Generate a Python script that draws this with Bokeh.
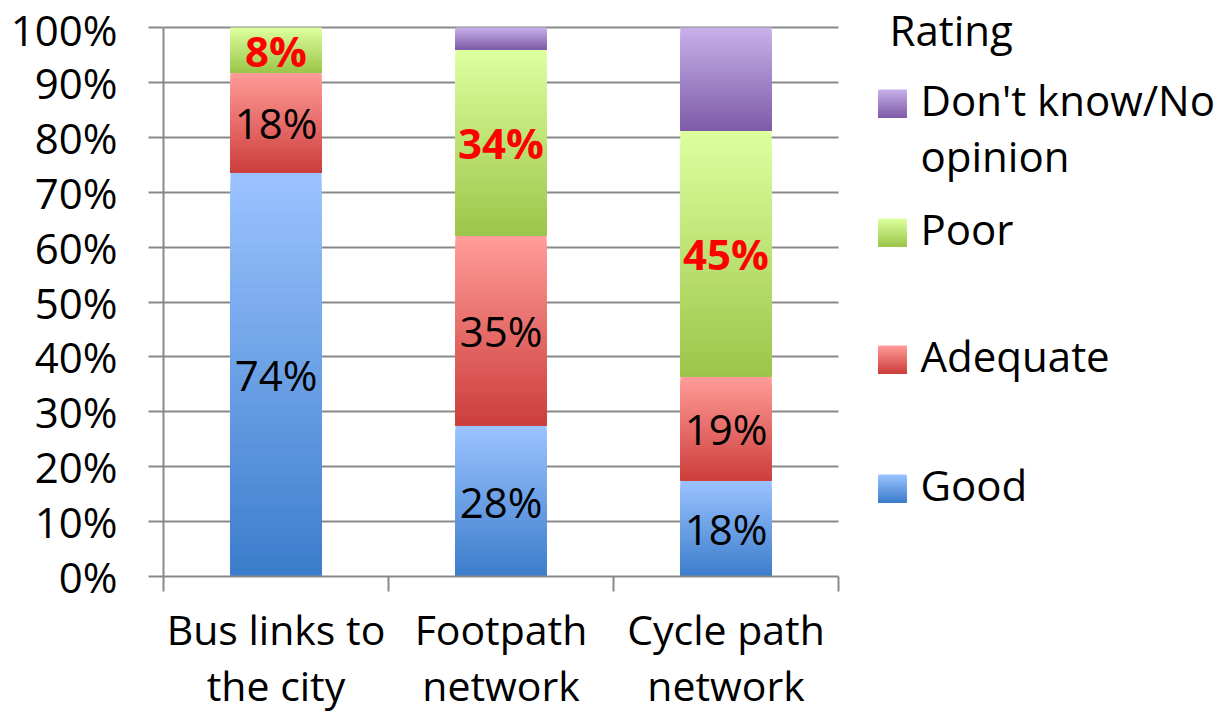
import numpy as np
from bokeh.plotting import figure
from bokeh.models import Range1d, FixedTicker, PrintfTickFormatter, ColumnDataSource
from bokeh.embed import file_html
from bokeh.resources import INLINE
from bokeh.core.properties import value

# ---------------- data ----------------
categories = ["Bus links to\nthe city", "Footpath\nnetwork", "Cycle path\nnetwork"]
ratings = ["Good", "Adequate", "Poor", "Don't know/No opinion"]
legend_order = ["Don't know/No opinion", "Poor", "Adequate", "Good"]
legend_lines = [["Don't know/No", "opinion"], ["Poor"], ["Adequate"], ["Good"]]
good = [73.6, 27.5, 17.5]
adequate = [18.2, 34.6, 18.9]
poor = [8.2, 33.9, 44.8]
dont_know = [0.0, 4.0, 18.8]
y_ticks = [0, 10, 20, 30, 40, 50, 60, 70, 80, 90, 100]

# ---------------- style / layout ----------------
FONT = "Open Sans"
FS = "42px"
GRAY = "#898989"
grad = {  # (light top, dark bottom)
    "Good": ("#9ac2ff", "#3d7ecc"),
    "Adequate": ("#ff9b98", "#cd3f3c"),
    "Poor": ("#dcff9e", "#9cc64a"),
    "Don't know/No opinion": ("#c7b0ea", "#7f5ca8"),
}
K = 40
BAR_W = 0.405

W, H = 1220, 716
FRAME_L, FRAME_B = 163, 576          # canvas px of x=0 / y=0
PX_X = 225.0                         # px per category
PX_Y = 5.49                          # px per percent
x_end = (W - FRAME_L) / PX_X
y_end = FRAME_B / PX_Y


def px2x(px):
    return (px - FRAME_L) / PX_X


def px2y(py):
    return (FRAME_B - py) / PX_Y


def hex2rgb(h):
    h = h.lstrip("#")
    return np.array([int(h[i:i + 2], 16) for i in (0, 2, 4)], dtype=float)


def mix(light, dark, t):
    a, b = hex2rgb(dark), hex2rgb(light)
    c = a + (b - a) * t
    return "#%02x%02x%02x" % tuple(int(round(v)) for v in c)


p = figure(width=W, height=H, x_range=Range1d(0, x_end), y_range=Range1d(0, y_end),
           output_backend="svg", toolbar_location=None,
           min_border_left=FRAME_L, min_border_right=0, min_border_top=0,
           min_border_bottom=H - FRAME_B)
p.outline_line_color = None
p.background_fill_color = "white"
p.border_fill_color = "white"

series = {"Good": good, "Adequate": adequate, "Poor": poor, "Don't know/No opinion": dont_know}
centers = [i + 0.5 for i in range(len(categories))]

# grid (only across the category area)
p.xgrid.grid_line_color = None
p.ygrid.ticker = FixedTicker(ticks=y_ticks)
p.ygrid.grid_line_color = GRAY
p.ygrid.grid_line_width = 2
p.ygrid.cross_bounds = (0, len(categories))

# gradient-filled stacked bars (overlapping slices, light on top)
qs = dict(left=[], right=[], bottom=[], top=[], color=[])
base = [0.0] * len(categories)
seg_info = []
for r in ratings:
    vals = series[r]
    light, dark = grad[r]
    for i, v in enumerate(vals):
        b = base[i]
        if v > 0:
            for j in range(K - 1, -1, -1):
                t = j / (K - 1)
                qs["left"].append(centers[i] - BAR_W / 2)
                qs["right"].append(centers[i] + BAR_W / 2)
                qs["bottom"].append(b)
                qs["top"].append(b + v * (j + 1) / K)
                qs["color"].append(mix(light, dark, t))
        seg_info.append((r, i, b, v))
        base[i] = b + v
p.quad(left="left", right="right", bottom="bottom", top="top", fill_color="color",
       line_color=None, source=ColumnDataSource(qs))

# value labels
lab_normal = dict(x=[], y=[], text=[])
lab_red = dict(x=[], y=[], text=[])
for r, i, b, v in seg_info:
    if r == "Don't know/No opinion" or v <= 0:
        continue
    d = lab_red if r == "Poor" else lab_normal
    d["x"].append(centers[i])
    d["y"].append(b + v / 2)
    d["text"].append("%d%%" % int(v + 0.5))
p.text(x="x", y="y", text="text", source=ColumnDataSource(lab_normal),
       text_font=value(FONT), text_font_size=FS, text_color="black",
       text_align="center", text_baseline="middle")
p.text(x="x", y="y", text="text", source=ColumnDataSource(lab_red),
       text_font=value(FONT), text_font_size=FS, text_color="#ff0000",
       text_font_style="bold", text_align="center", text_baseline="middle")

# axes
xa = p.xaxis[0]
xa.bounds = (0, len(categories))
xa.ticker = FixedTicker(ticks=centers, minor_ticks=list(range(len(categories) + 1)))
xa.major_label_overrides = {c: lab for c, lab in zip(centers, categories)}
xa.major_tick_out = 0
xa.major_tick_in = 0
xa.minor_tick_out = 15
xa.minor_tick_in = 0
xa.minor_tick_line_color = GRAY
xa.minor_tick_line_width = 2
xa.axis_line_color = GRAY
xa.axis_line_width = 2
xa.major_label_text_font = FONT
xa.major_label_text_font_size = "41px"
xa.major_label_text_color = "black"
xa.major_label_text_line_height = 1.0
xa.major_label_standoff = 9

ya = p.yaxis[0]
ya.bounds = (0, 100)
ya.ticker = FixedTicker(ticks=y_ticks)
ya.formatter = PrintfTickFormatter(format="%d%%")
ya.major_tick_out = 15
ya.major_tick_in = 0
ya.minor_tick_line_color = None
ya.major_tick_line_color = GRAY
ya.major_tick_line_width = 2
ya.axis_line_color = GRAY
ya.axis_line_width = 2
ya.major_label_text_font = FONT
ya.major_label_text_font_size = FS
ya.major_label_text_color = "black"
ya.major_label_standoff = 31

# ---------------- legend (drawn in the right part of the frame) ----------------
TXT_UP = 18   # px from text baseline to "middle" anchor
p.text(x=[px2x(889)], y=[px2y(47 - TXT_UP)], text=["Rating"], text_font=value(FONT),
       text_font_size=FS, text_color="black", text_baseline="middle")

leg_base_px = [117, 246, 373, 502]
LINE_PX = 56
lq = dict(left=[], right=[], bottom=[], top=[], color=[])
lt = dict(x=[], y=[], text=[])
for r, lines, yb in zip(legend_order, legend_lines, leg_base_px):
    light, dark = grad[r]
    for j in range(K - 1, -1, -1):
        t = j / (K - 1)
        lq["left"].append(px2x(878))
        lq["right"].append(px2x(906))
        lq["bottom"].append(px2y(yb))
        lq["top"].append(px2y(yb - 28 * (j + 1) / K))
        lq["color"].append(mix(light, dark, t))
    for k, ln in enumerate(lines):
        lt["x"].append(px2x(920))
        lt["y"].append(px2y(yb + k * LINE_PX - TXT_UP))
        lt["text"].append(ln)
p.quad(left="left", right="right", bottom="bottom", top="top", fill_color="color",
       line_color=None, source=ColumnDataSource(lq))
p.text(x="x", y="y", text="text", source=ColumnDataSource(lt), text_font=value(FONT),
       text_font_size=FS, text_color="black", text_baseline="middle")

open("out.html", "w").write(file_html(p, INLINE))
